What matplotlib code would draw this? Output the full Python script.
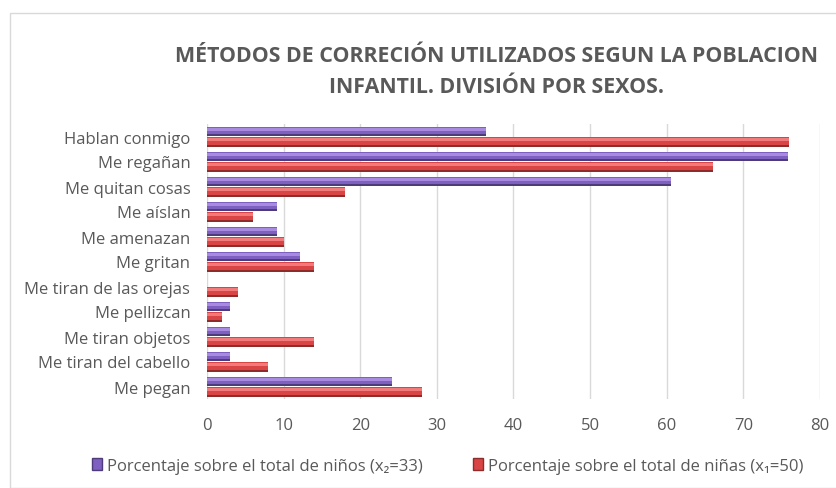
import matplotlib
matplotlib.use("Agg")
import matplotlib.pyplot as plt
import numpy as np
from matplotlib.patches import Rectangle, Patch

categories = ["Hablan conmigo", "Me regañan", "Me quitan cosas", "Me aíslan",
              "Me amenazan", "Me gritan", "Me tiran de las orejas", "Me pellizcan",
              "Me tiran objetos", "Me tiran del cabello", "Me pegan"]
ninos = [36.4, 75.8, 60.6, 9.1, 9.1, 12.1, 0.0, 3.0, 3.0, 3.0, 24.2]
ninas = [76, 66, 18, 6, 10, 14, 4, 2, 14, 8, 28]
xticks = [0, 10, 20, 30, 40, 50, 60, 70, 80]
label_ninos = "Porcentaje sobre el total de niños (x\u2082=33)"
label_ninas = "Porcentaje sobre el total de niñas (x\u2081=50)"
title = "MÉTODOS DE CORRECIÓN UTILIZADOS SEGUN LA POBLACION\nINFANTIL. DIVISIÓN POR SEXOS."

plt.rcParams['font.family'] = ['Open Sans', 'DejaVu Sans']
txt = "#595959"

fig = plt.figure(figsize=(8.37, 4.89), dpi=100)
ax = fig.add_axes([207/837, 1-400/489, (820-207)/837, (400-125)/489])

y = np.arange(len(categories))
h = 0.39
yp = y - h/2 - 0.01
yr = y + h/2 + 0.01
# purple series (boys) with shading layers
ax.barh(yp, ninos, height=h, color="#4E3B7A", zorder=3)
ax.barh(yp - 0.03, ninos, height=h*0.75, color="#7D60C0", zorder=4)
ax.barh(yp - 0.07, ninos, height=h*0.3, color="#A88BE0", zorder=5)
# red series (girls)
ax.barh(yr, ninas, height=h, color="#8E2B2B", zorder=3)
ax.barh(yr - 0.03, ninas, height=h*0.75, color="#D94545", zorder=4)
ax.barh(yr - 0.07, ninas, height=h*0.3, color="#F27A7A", zorder=5)

ax.set_xlim(0, 80)
ax.set_ylim(len(categories) - 0.5, -0.5)
ax.set_xticks(xticks)
ax.set_xticklabels([str(t) for t in xticks], fontsize=12, color=txt)
ax.set_yticks(y)
ax.set_yticklabels(categories, fontsize=12, color=txt)
ax.tick_params(axis='both', length=0)
ax.tick_params(axis='x', pad=13)
ax.tick_params(axis='y', pad=12)
ax.grid(axis='x', color="#d9d9d9", linewidth=1, zorder=0)
for s in ax.spines.values():
    s.set_visible(False)

fig.text(497/837, 1-72/489, title, ha='center', va='center', fontsize=15.4,
         fontweight='bold', color=txt, linespacing=1.65)

handles = [Patch(facecolor="#7D60C0", edgecolor="#4E3B7A", label=label_ninos),
           Patch(facecolor="#D94545", edgecolor="#8E2B2B", label=label_ninas)]
fig.legend(handles=handles, loc='center', bbox_to_anchor=(448/837, 1-467/489),
           ncol=2, frameon=False, fontsize=12, labelcolor=txt,
           handlelength=0.6, handleheight=0.7, handletextpad=0.3, columnspacing=3.0)

fig.patches.append(Rectangle((10/837, 0), 2, 1-14/489, transform=fig.transFigure,
                             fill=False, edgecolor="#d9d9d9", linewidth=1))

fig.savefig("out.png", dpi=100)
